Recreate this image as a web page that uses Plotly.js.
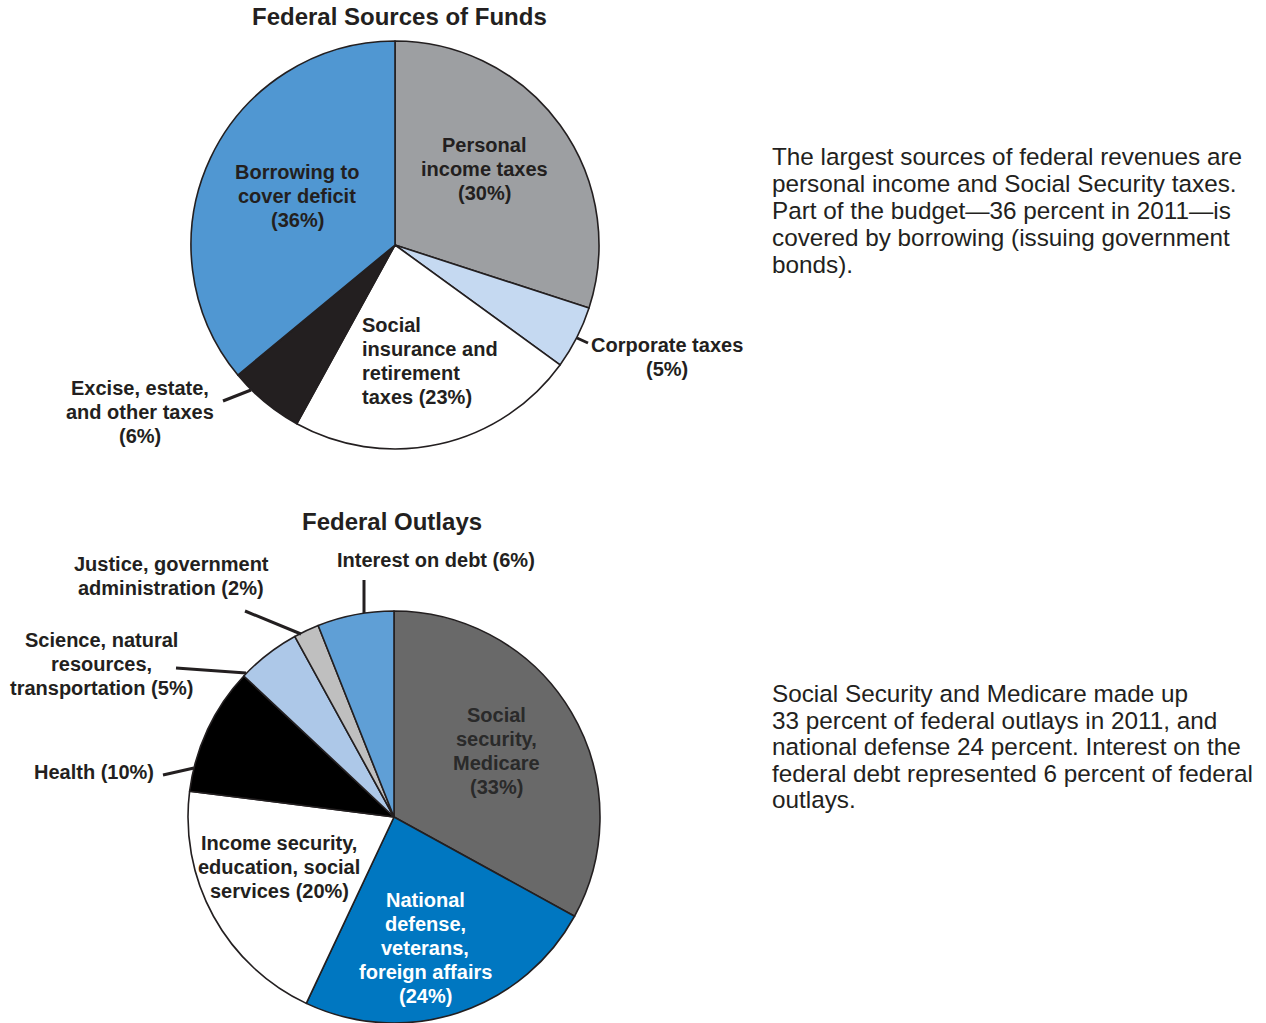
<!DOCTYPE html>
<html>
<head>
<meta charset="utf-8">
<script src="https://cdn.plot.ly/plotly-3.0.1.min.js"></script>
<style>html,body{margin:0;padding:0;background:#fff;}#chart{width:1266px;height:1023px;}</style>
</head>
<body>
<div id="chart"></div>
<script>
// ---------- DATA ----------
const sourcesTitle = 'Federal Sources of Funds';
const sourcesLabels = ['Personal income taxes', 'Corporate taxes', 'Social insurance and retirement taxes', 'Excise, estate, and other taxes', 'Borrowing to cover deficit'];
const sourcesValues = [30, 5, 23, 6, 36];
const sourcesLines = [['Personal', 'income taxes'], ['Corporate taxes'], ['Social', 'insurance and', 'retirement', 'taxes'], ['Excise, estate,', 'and other taxes'], ['Borrowing to', 'cover deficit']];
const sourcesPctOwnLine = [true, true, false, true, true];

const outlaysTitle = 'Federal Outlays';
const outlaysLabels = ['Social security, Medicare', 'National defense, veterans, foreign affairs', 'Income security, education, social services', 'Health', 'Science, natural resources, transportation', 'Justice, government administration', 'Interest on debt'];
const outlaysValues = [33, 24, 20, 10, 5, 2, 6];
const outlaysLines = [['Social', 'security,', 'Medicare'], ['National', 'defense,', 'veterans,', 'foreign affairs'], ['Income security,', 'education, social', 'services'], ['Health'], ['Science, natural', 'resources,', 'transportation'], ['Justice, government', 'administration'], ['Interest on debt']];
const outlaysPctOwnLine = [true, true, false, false, false, false, false];

const sourcesNote = ['The largest sources of federal revenues are', 'personal income and Social Security taxes.', 'Part of the budget\u201436 percent in 2011\u2014is', 'covered by borrowing (issuing government', 'bonds).'];
const outlaysNote = ['Social Security and Medicare made up', '33 percent of federal outlays in 2011, and', 'national defense 24 percent. Interest on the', 'federal debt represented 6 percent of federal', 'outlays.'];

// ---------- STYLE / LAYOUT ----------
const W = 1266, H = 1023;
const FONT = 'Liberation Sans, Arial, Helvetica, sans-serif';
const INK = '#231f20';
const px = x => x / W;
const py = y => 1 - y / H;

const sourcesColors = ['#9d9fa2', '#c5d9f1', '#ffffff', '#231f20', '#5097d2'];
const outlaysColors = ['#696969', '#0077c1', '#ffffff', '#000000', '#adc8e8', '#bfbfbf', '#5f9fd6'];

// label placement: [x, firstLineY, anchor, color]
const sourcesPos = [[484, 145, 'center', INK], [667, 345, 'center', INK], [360, 325, 'left', INK], [140, 388, 'center', INK], [297, 172, 'center', INK]];
const outlaysPos = [[496, 715, 'center', '#2a2a2a'], [425, 900, 'center', '#ffffff'], [279, 843, 'center', INK], [94, 772, 'center', INK], [101, 640, 'center', INK], [171, 564, 'center', INK], [436, 560, 'center', INK]];

const sourcesLeaders = [null, [577, 338, 588, 343], null, [223, 401, 251, 390], null];
const outlaysLeaders = [null, null, null, [163, 775, 194, 768], [176, 668, 246, 673], [245, 611, 301, 634], [364, 580, 364, 613]];

const LINE = 24;
const annotations = [];
const shapes = [];

function addLabels(lines, values, ownLine, pos, leaders) {
  lines.forEach((ls, i) => {
    const all = ls.slice();
    const pct = '(' + values[i] + '%)';
    if (ownLine[i]) all.push(pct); else all[all.length - 1] = all[all.length - 1] + ' ' + pct;
    const [x, y0, anchor, color] = pos[i];
    all.forEach((t, k) => {
      annotations.push({
        text: '<b>' + t + '</b>', xref: 'paper', yref: 'paper',
        x: px(x), y: py(y0 + k * LINE), xanchor: anchor, yanchor: 'middle',
        showarrow: false, align: anchor, font: {family: FONT, size: 20, color: color}
      });
    });
    const L = leaders[i];
    if (L) {
      shapes.push({type: 'line', xref: 'paper', yref: 'paper', x0: px(L[0]), y0: py(L[1]), x1: px(L[2]), y1: py(L[3]), line: {color: INK, width: 3}});
    }
  });
}
addLabels(sourcesLines, sourcesValues, sourcesPctOwnLine, sourcesPos, sourcesLeaders);
addLabels(outlaysLines, outlaysValues, outlaysPctOwnLine, outlaysPos, outlaysLeaders);

function addNote(lines, x, y0, step) {
  lines.forEach((t, k) => {
    annotations.push({
      text: t, xref: 'paper', yref: 'paper', x: px(x), y: py(y0 + k * step),
      xanchor: 'left', yanchor: 'middle', showarrow: false, align: 'left',
      font: {family: FONT, size: 24.3, color: INK}
    });
  });
}
addNote(sourcesNote, 770, 157, 26.75);
addNote(outlaysNote, 770, 693.5, 26.6);

annotations.push({text: '<b>' + sourcesTitle + '</b>', xref: 'paper', yref: 'paper', x: px(399), y: py(17), xanchor: 'center', yanchor: 'middle', showarrow: false, font: {family: FONT, size: 24, color: INK}});
annotations.push({text: '<b>' + outlaysTitle + '</b>', xref: 'paper', yref: 'paper', x: px(392), y: py(521), xanchor: 'center', yanchor: 'middle', showarrow: false, font: {family: FONT, size: 24, color: INK}});

const traces = [
  {
    type: 'pie', labels: sourcesLabels, values: sourcesValues, sort: false, direction: 'clockwise', rotation: 0,
    marker: {colors: sourcesColors, line: {color: INK, width: 1.6}},
    textinfo: 'none', hoverinfo: 'label+percent', showlegend: false,
    domain: {x: [px(191), px(599)], y: [py(449), py(41)]}
  },
  {
    type: 'pie', labels: outlaysLabels, values: outlaysValues, sort: false, direction: 'clockwise', rotation: 0,
    marker: {colors: outlaysColors, line: {color: INK, width: 1.6}},
    textinfo: 'none', hoverinfo: 'label+percent', showlegend: false,
    domain: {x: [px(187), px(601)], y: [0, py(611)]}
  }
];

const layout = {
  width: W, height: H, margin: {l: 0, r: 0, t: 0, b: 0},
  paper_bgcolor: '#ffffff', plot_bgcolor: '#ffffff',
  annotations: annotations, shapes: shapes, showlegend: false
};

Plotly.newPlot('chart', traces, layout, {displayModeBar: false, staticPlot: true});
</script>
</body>
</html>
